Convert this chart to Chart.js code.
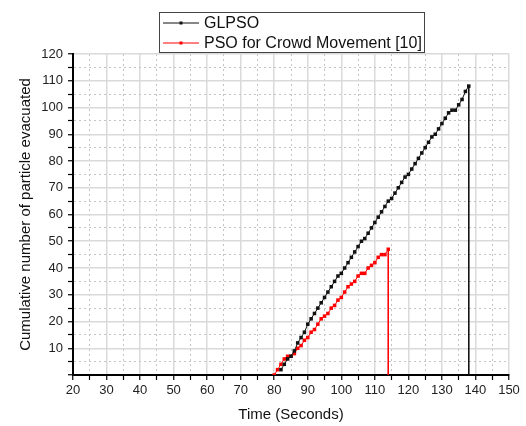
<!DOCTYPE html>
<html>
<head>
<meta charset="utf-8">
<script src="https://cdn.jsdelivr.net/npm/chart.js@4"></script>
<style>
  body { margin: 0; background: #fff; }
  canvas { display: block; }
</style>
</head>
<body>
<canvas id="myChart" width="526" height="426"></canvas>
<script>
const glpsoTime = [82, 83, 84, 85, 86, 87, 88, 89, 90, 91,
  92, 93, 94, 95, 96, 97, 98, 99, 100, 101,
  102, 103, 104, 105, 106, 107, 108, 109, 110, 111,
  112, 113, 114, 115, 116, 117, 118, 119, 120, 121,
  122, 123, 124, 125, 126, 127, 128, 129, 130, 131,
  132, 133, 134, 135, 136, 137, 138];
const glpsoCount = [2, 4, 6, 7, 9, 12, 14, 16, 19, 21,
  23, 25, 27, 29, 31, 33, 35, 37, 38, 40,
  42, 44, 46, 48, 50, 51, 53, 55, 57, 59,
  61, 63, 65, 66, 68, 70, 72, 74, 75, 77,
  79, 81, 83, 85, 87, 89, 90, 92, 94, 96,
  98, 99, 99, 101, 103, 106, 108];

const psoTime = [80, 81, 82, 83, 84, 85, 86, 87, 88, 89,
  90, 91, 92, 93, 94, 95, 96, 97, 98, 99,
  100, 101, 102, 103, 104, 105, 106, 107, 108, 109,
  110, 111, 112, 113, 114];
const psoCount = [0, 2, 4, 6, 7, 7, 8, 10, 11, 13,
  14, 16, 17, 19, 21, 22, 23, 25, 26, 28,
  29, 31, 33, 34, 35, 37, 38, 38, 40, 41,
  42, 44, 45, 45, 47];

const seriesNames = ["GLPSO", "PSO for Crowd Movement [10]"];
const seriesColors = ["#111", "#ff0000"];

// points plus a drop to zero at the last time (the evacuation end line)
function toPoints(times, counts) {
  const pts = times.map((t, i) => ({ x: t, y: counts[i] }));
  pts.push({ x: times[times.length - 1], y: 0 });
  return pts;
}

const font = "'Liberation Sans', Arial, sans-serif";
const minorDash = ctx => (ctx.tick && ctx.tick.value % 10 !== 0) ? [2, 3] : [];
const gridColor = ctx => (ctx.tick && ctx.tick.value % 10 !== 0) ? "#c4c4c4" : "#dadada";
const gridWidth = ctx => (ctx.tick && ctx.tick.value % 10 !== 0) ? 1 : 1.5;

const boxLegend = {
  id: "boxLegend",
  afterDraw(chart) {
    const c = chart.ctx;
    const x0 = 159, y0 = 12, w = 265, h = 40;
    c.save();
    c.strokeStyle = "#444";
    c.lineWidth = 1;
    c.strokeRect(x0 + 0.5, y0 + 0.5, w, h);
    c.font = "16px " + font;
    c.textBaseline = "middle";
    chart.data.datasets.forEach((ds, i) => {
      const y = y0 + 11 + i * 20;
      c.strokeStyle = ds.borderColor;
      c.beginPath();
      c.moveTo(x0 + 4, y);
      c.lineTo(x0 + 40, y);
      c.stroke();
      c.fillStyle = ds.borderColor;
      c.fillRect(x0 + 20.5, y - 1.5, 3, 3);
      c.fillStyle = "#111";
      c.fillText(ds.label, x0 + 45, y + 1);
    });
    c.restore();
  }
};

const ctx = document.getElementById("myChart");

new Chart(ctx, {
  type: "line",
  data: {
    datasets: [{
      label: seriesNames[0],
      data: toPoints(glpsoTime, glpsoCount),
      borderColor: seriesColors[0],
      backgroundColor: seriesColors[0],
      borderWidth: 1,
      pointStyle: "rect",
      pointRadius: c => c.dataIndex === glpsoTime.length ? 0 : 2.5,
      pointBorderWidth: 0,
      tension: 0
    }, {
      label: seriesNames[1],
      data: toPoints(psoTime, psoCount),
      borderColor: seriesColors[1],
      backgroundColor: seriesColors[1],
      borderWidth: 1,
      pointStyle: "rect",
      pointRadius: c => c.dataIndex === psoTime.length ? 0 : 2.5,
      pointBorderWidth: 0,
      tension: 0
    }]
  },
  options: {
    responsive: false,
    animation: false,
    layout: { padding: { top: 54, right: 17, left: 0, bottom: 0 } },
    plugins: {
      legend: { display: false },
      tooltip: { enabled: false }
    },
    scales: {
      x: {
        type: "linear",
        min: 20,
        max: 150,
        afterFit: s => { s.height = 51; },
        ticks: {
          stepSize: 5,
          autoSkip: false,
          maxRotation: 0,
          padding: 3,
          color: "#222",
          font: { family: font, size: 13 },
          callback: v => v % 10 === 0 ? v : ""
        },
        grid: {
          color: gridColor,
          lineWidth: gridWidth,
          tickColor: "#000",
          tickLength: 5,
          tickWidth: 1.2
        },
        border: { display: true, color: "#000", width: 2, dash: minorDash },
        title: {
          display: true,
          text: "Time (Seconds)",
          color: "#111",
          font: { family: font, size: 15 },
          padding: { top: 0, bottom: 2 }
        }
      },
      y: {
        min: 0,
        max: 120,
        afterFit: s => { s.width = 73; },
        ticks: {
          stepSize: 5,
          autoSkip: false,
          padding: 5,
          color: "#222",
          font: { family: font, size: 13 },
          callback: v => (v % 10 === 0 && v > 0) ? v : ""
        },
        grid: {
          color: gridColor,
          lineWidth: gridWidth,
          tickColor: "#000",
          tickLength: 5,
          tickWidth: 1.2
        },
        border: { display: true, color: "#000", width: 2, dash: minorDash },
        title: {
          display: true,
          text: "Cumulative number of particle evacuated",
          color: "#111",
          font: { family: font, size: 15 },
          padding: { top: 17, bottom: 0 }
        }
      }
    }
  },
  plugins: [boxLegend]
});
</script>
</body>
</html>
